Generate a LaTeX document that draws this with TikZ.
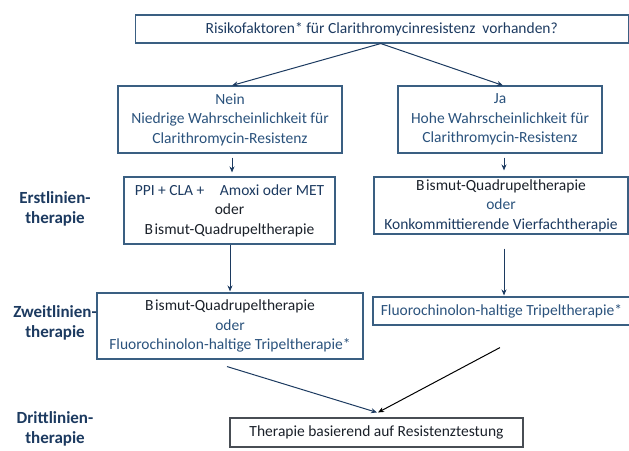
\documentclass[tikz,border=0pt]{standalone}
\usepackage{fontspec}
\setmainfont{Carlito}
\usetikzlibrary{arrows.meta,calc}
\definecolor{frame}{HTML}{3A5F82}
\definecolor{navy}{HTML}{1C3A60}
\definecolor{midblue}{HTML}{2A527C}
\definecolor{ink}{HTML}{1A2029}
\newcommand{\bism}{B\hspace{1.6pt}ismut-Quadrupeltherapie}
\tikzset{
  box/.style={draw=frame,line width=1.1pt,inner sep=0pt,align=center,
    font=\fontsize{15.5}{19.5}\selectfont,text=navy},
  linelabel/.style={align=center,font=\fontsize{17}{20}\selectfont\bfseries,text=navy},
  flow/.style={draw=navy,line width=1pt,-{Stealth[length=6pt,width=5pt]}},
  flowblack/.style={draw=black,line width=1pt,-{Stealth[length=6pt,width=5pt]}}
}
\begin{document}
\begin{tikzpicture}[x=1pt,y=-1pt]
\useasboundingbox (0,0) rectangle (629,450);

% question box
\node[box,minimum width=493pt,minimum height=28pt] (q) at (381.75,29)
  {Risikofaktoren* für Clarithromycinresistenz\ \ vorhanden?};

% branches
\node[box,minimum width=224pt,minimum height=67pt,text=midblue] (nein) at (230,119.5)
  {Nein\\Niedrige Wahrscheinlichkeit für\\Clarithromycin-Resistenz};
\node[box,minimum width=204pt,minimum height=67pt,text=midblue] (ja) at (500,119.5)
  {Ja\\Hohe Wahrscheinlichkeit für\\Clarithromycin-Resistenz};

% first line
\node[box,minimum width=211pt,minimum height=67pt] (e1) at (229.5,210.5)
  {PPI + CLA +\quad Amoxi oder MET\\\textcolor{ink}{oder}\\\textcolor{ink}{\bism}};
\node[box,minimum width=254pt,minimum height=57pt] (e2) at (501,205.5)
  {\textcolor{ink}{\bism}\\\textcolor{midblue}{oder}\\Konkommittierende Vierfachtherapie};

% second line
\node[box,minimum width=266pt,minimum height=66pt] (z1) at (230,326)
  {\textcolor{ink}{\bism}\\\textcolor{midblue}{oder}\\\textcolor{midblue}{Fluorochinolon-haltige Tripeltherapie*}};
\node[box,minimum width=257pt,minimum height=28pt,text=midblue] (z2) at (501.5,311)
  {Fluorochinolon-haltige Tripeltherapie*};

% third line
\node[box,draw=ink!80,minimum width=293pt,minimum height=29pt,text=ink] (d) at (376.5,432.5)
  {Therapie basierend auf Resistenztestung};

% row labels
\node[linelabel] (l1) at (55,209) {Erstlinien-\\therapie};
\node[linelabel] (l2) at (55,323) {Zweitlinien-\\therapie};
\node[linelabel] (l3) at (55,429) {Drittlinien-\\therapie};

% connectors
\coordinate (qs) at ($(q.south)+(-1,0)$);
\draw[flow] (qs) -- ($(nein.north)+(2,0)$);
\draw[flow] (qs) -- ($(ja.north)+(3,0)$);
\draw[flow] ($(nein.south)+(2,4)$) -- ($(e1.north)+(2.5,-4)$);
\draw[flow] ($(ja.south)+(4,4)$) -- ($(e2.north)+(3,-6)$);
\draw[flow] ($(e1.south)+(0.5,0)$) -- ($(z1.north)+(0,-1)$);
\draw[flow] ($(e2.south)+(3,14)$) -- ($(z2.north)+(2.5,-1)$);
\coordinate (z1tail) at ($(z1.south)+(-3,7)$);
\coordinate (z2tail) at ($(z2.south)+(-1.5,22)$);
\draw[flow] (z1tail) -- ($(d.north)+(0.5,-5)$);
\draw[flowblack] (z2tail) -- ($(d.north)+(1.5,-5)$);
\end{tikzpicture}
\end{document}
